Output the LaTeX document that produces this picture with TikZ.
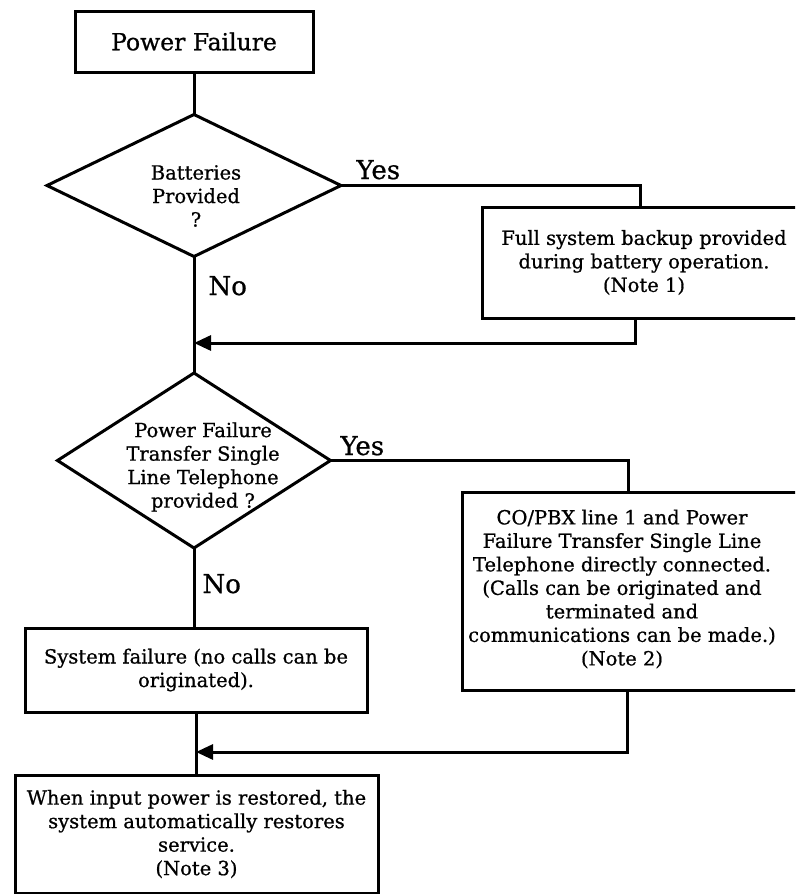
\documentclass[tikz,border=0pt]{standalone}
\usepackage{fontspec}
\setmainfont{DejaVu Serif}[FakeBold=0.8]
\usetikzlibrary{shapes.geometric,arrows.meta}
\begin{document}
\begin{tikzpicture}[x=1pt,y=-1pt,
  line width=3pt,
  box/.style={draw, rectangle, inner sep=0pt, outer sep=0pt, align=center, font=\fontsize{19.5}{23.5}\selectfont},
  dia/.style={draw, diamond, inner sep=0pt, outer sep=0pt},
  txt/.style={align=center, inner sep=0pt, font=\fontsize{19.5}{23.5}\selectfont},
  lbl/.style={inner sep=0pt, font=\fontsize{26}{30}\selectfont, anchor=base west},
  arr/.style={-{Triangle[length=17pt,width=15pt]}}
]
\clip (0,0) rectangle (795,894);
\fill[white] (0,0) rectangle (795,894);

\node[box, minimum width=238, minimum height=61, font=\fontsize{23.5}{28}\selectfont] (pf) at (194,41.5) {Power Failure};

\node[dia, minimum width=294, minimum height=142] (d1) at (194,185.5) {};
\node[txt] (t1) at (196,196) {Batteries\\Provided\\?};

\node[box, minimum width=324, minimum height=111] (b1) at (644,262.5) {Full system backup provided\\during battery operation.\\(Note 1)};

\node[dia, minimum width=273, minimum height=175] (d2) at (194,460.5) {};
\node[txt] (t2) at (203,467) {Power Failure\\Transfer Single\\Line Telephone\\provided ?};

\node[box, minimum width=340, minimum height=198] (b2) at (632,591) {};
\node[txt] (t2b) at (622,589) {CO/PBX line 1 and Power\\Failure Transfer Single Line\\Telephone directly connected.\\(Calls can be originated and\\terminated and\\communications can be made.)\\(Note 2)};

\node[box, minimum width=342, minimum height=84] (b3) at (196,670) {System failure (no calls can be\\originated).};

\node[box, minimum width=363, minimum height=118] (b4) at (196.5,834) {When input power is restored, the\\system automatically restores\\service.\\(Note 3)};

\node[lbl] (yes1) at (355,179) {Yes};
\node[lbl] (no1) at (207,295) {No};
\node[lbl] (yes2) at (339,455) {Yes};
\node[lbl] (no2) at (201,593) {No};

\coordinate (j1) at (194,343);
\coordinate (j2) at (196,752);

\draw (pf.south) -- (d1.north);
\draw (d1.east) -| ([xshift=-4pt]b1.north);
\draw (d1.south) -- (d2.north);
\draw[arr] ([xshift=-9pt]b1.south) |- (j1);
\draw (d2.east) -| ([xshift=-4pt]b2.north);
\draw (d2.south) -- (d2.south |- b3.north);
\draw (b3.south) -- (b3.south |- b4.north);
\draw[arr] ([xshift=-5pt]b2.south) |- (j2);
\end{tikzpicture}
\end{document}
